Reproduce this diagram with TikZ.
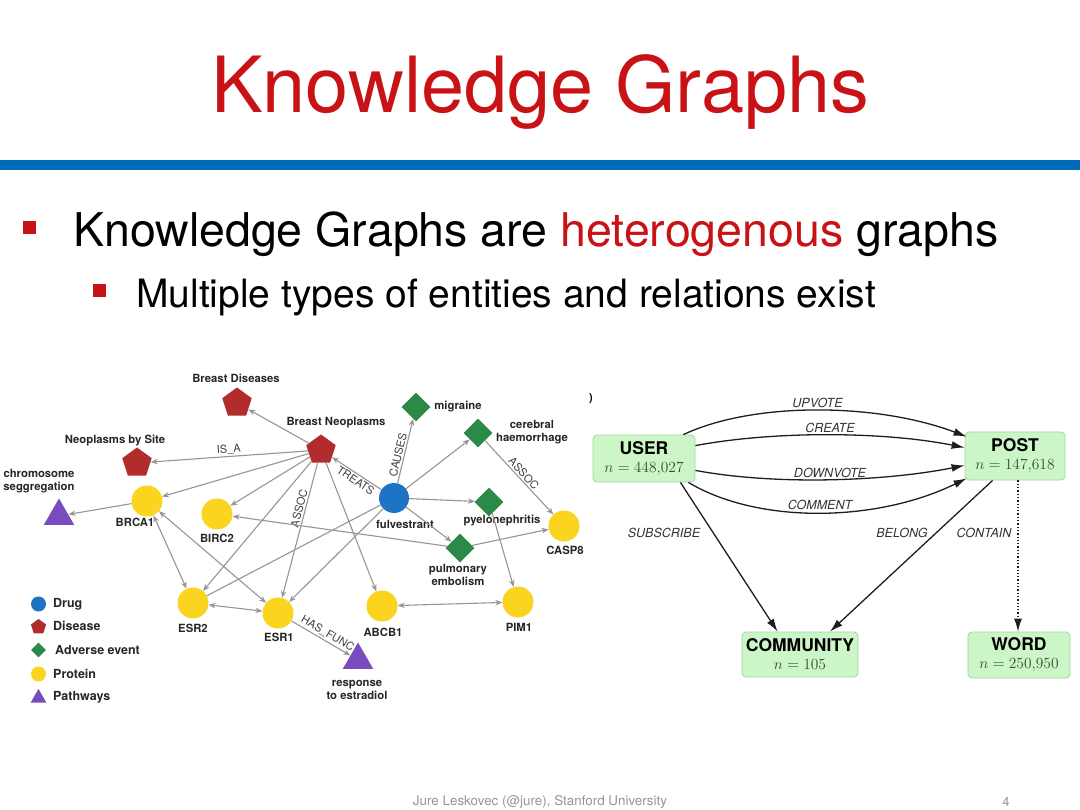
\RequirePackage{fix-cm}
\documentclass[tikz,border=0pt]{standalone}
\usepackage{fontspec}
\setmainfont{TeX Gyre Heros}
\usetikzlibrary{shapes.geometric,arrows.meta}
\definecolor{titlered}{RGB}{200,18,22}
\definecolor{barblue}{RGB}{0,108,183}
\definecolor{disred}{RGB}{178,44,44}
\definecolor{advgreen}{RGB}{44,138,72}
\definecolor{protyellow}{RGB}{250,212,30}
\definecolor{drugblue}{RGB}{30,116,196}
\definecolor{pathpurple}{RGB}{120,76,190}
\definecolor{edgegray}{RGB}{150,150,150}
\definecolor{boxfill}{RGB}{204,245,200}
\definecolor{boxline}{RGB}{160,215,160}
\definecolor{darkline}{RGB}{30,30,30}
\definecolor{ntext}{RGB}{50,80,50}
\definecolor{foot}{RGB}{150,150,150}
\begin{document}
\begin{tikzpicture}[x=1pt,y=-1pt,
  prot/.style={circle,fill=protyellow,minimum size=31pt,inner sep=0pt},
  drug/.style={circle,fill=drugblue,minimum size=30pt,inner sep=0pt},
  dis/.style={regular polygon,regular polygon sides=5,fill=disred,minimum size=31pt,inner sep=0pt},
  adv/.style={diamond,fill=advgreen,minimum size=29pt,inner sep=0pt},
  path/.style={regular polygon,regular polygon sides=3,fill=pathpurple,minimum size=35pt,inner sep=0pt},
  nlbl/.style={font=\fontsize{11.3}{13}\selectfont\bfseries,text=black!85,inner sep=1pt,align=center},
  elbl/.style={font=\fontsize{11}{12}\selectfont,text=black!75,inner sep=1.5pt},
  gedge/.style={draw=edgegray,line width=1.1pt,-{Stealth[length=7pt,width=5.5pt]}},
  gboth/.style={draw=edgegray,line width=1.1pt,{Stealth[length=7pt,width=5.5pt]}-{Stealth[length=7pt,width=5.5pt]}},
  gline/.style={draw=edgegray,line width=1.1pt},
  ebox/.style={draw=boxline,fill=boxfill,rounded corners=4pt,line width=0.8pt,align=center,inner sep=0pt,font=\fontsize{17.5}{18}\selectfont},
  rarrow/.style={draw=darkline,line width=1.3pt,-{Latex[length=13pt,width=8pt]}},
  rlbl/.style={font=\fontsize{12.5}{14}\selectfont\itshape,text=black!80,inner sep=2pt},
  leg/.style={font=\fontsize{12.5}{14}\selectfont\bfseries,text=black!85,anchor=west,inner sep=0pt}
]
\useasboundingbox (0,0) rectangle (1080,810);
\fill[white] (0,0) rectangle (1080,810);

% title and bar
\node[font=\fontsize{77.5}{82}\selectfont,text=titlered] (title) at (540,92) {Knowledge Graphs};
\fill[barblue] (0,160) rectangle (1080,170);

% bullets
\node[fill=titlered,minimum size=13pt,inner sep=0pt] (b1) at (29.5,228) {};
\node[anchor=base west,font=\fontsize{46.5}{50}\selectfont,inner sep=0pt] (t1) at (73,246.7) {Knowledge Graphs are \textcolor{titlered}{heterogenous} graphs};
\node[fill=titlered,minimum size=12.5pt,inner sep=0pt] (b2) at (99.7,290.5) {};
\node[anchor=base west,font=\fontsize{39}{43}\selectfont,inner sep=0pt] (t2) at (136,307.3) {Multiple types of entities and relations exist};

% ---------------- left graph ----------------
\node[dis] (bd) at (237,403) {};
\node[dis] (bn) at (321,450) {};
\node[dis] (nbs) at (137,463) {};
\node[path] (chrom) at (59,516) {};
\node[prot] (brca1) at (147,501) {};
\node[prot] (birc2) at (217,514) {};
\node[drug] (fulv) at (394,498) {};
\node[adv] (mig) at (416,407) {};
\node[adv] (cer) at (478,433) {};
\node[adv] (pyel) at (489,502) {};
\node[adv] (pulm) at (460,548) {};
\node[prot] (casp8) at (564,526) {};
\node[prot] (esr2) at (193,603) {};
\node[prot] (esr1) at (278,613) {};
\node[prot] (abcb1) at (382,606) {};
\node[prot] (pim1) at (518,602) {};
\node[path] (resp) at (358,660) {};

\node[nlbl] (lbd) at (236,378) {Breast Diseases};
\node[nlbl] (lbn) at (336,423) {Breast Neoplasms};
\node[nlbl] (lnbs) at (115,441) {Neoplasms by Site};
\node[nlbl] (lchrom) at (39,481) {chromosome\\seggregation};
\node[nlbl] (lbrca1) at (135,522) {BRCA1};
\node[nlbl] (lbirc2) at (217,538) {BIRC2};
\node[nlbl] (lfulv) at (405,524) {fulvestrant};
\node[nlbl] (lmig) at (458,407) {migraine};
\node[nlbl] (lcer) at (532,432) {cerebral\\haemorrhage};
\node[nlbl] (lpyel) at (502,521) {pyelonephritis};
\node[nlbl] (lpulm) at (458,575) {pulmonary\\embolism};
\node[nlbl] (lcasp8) at (565,550) {CASP8};
\node[nlbl] (lesr2) at (193,628) {ESR2};
\node[nlbl] (lesr1) at (279,637) {ESR1};
\node[nlbl] (labcb1) at (383,632) {ABCB1};
\node[nlbl] (lpim1) at (519,627) {PIM1};
\node[nlbl] (lresp) at (357,690) {response\\to estradiol};

% edges
\draw[gedge] (bn) -- (bd);
\draw[gedge] (bn) -- node[elbl,above,sloped,pos=0.5] (lisa) {IS\_A} (nbs);
\draw[gedge] (bn) -- (brca1);
\draw[gedge] (bn) -- (birc2);
\draw[gedge] (bn) -- (esr2);
\draw[gedge] (bn) -- node[elbl,above,sloped,pos=0.35] (lassoc1) {ASSOC} (esr1);
\draw[gedge] (bn) -- (abcb1);
\draw[gedge] (fulv) -- node[elbl,below,sloped,pos=0.45] (ltreats) {TREATS} (bn);
\draw[gedge] (fulv) -- node[elbl,above,sloped,pos=0.42] (lcauses) {CAUSES} (mig);
\draw[gedge] (fulv) -- (cer);
\draw[gedge] (fulv) -- (pyel);
\draw[gedge] (fulv) -- (pulm);
\draw[gline] (fulv) -- (esr2);
\draw[gedge] (fulv) -- (esr1);
\draw[gboth] (brca1) -- (esr2);
\draw[gboth] (brca1) -- (esr1);
\draw[gboth] (esr2) -- (esr1);
\draw[gedge] (esr1) -- node[elbl,above,sloped,pos=0.55] (lhas) {HAS\_FUNC} (resp);
\draw[gboth] (abcb1) -- (pim1);
\draw[gedge] (brca1) -- (chrom);
\draw[gedge] (cer) -- node[elbl,above,sloped,pos=0.5] (lassoc2) {ASSOC} (casp8);
\draw[gedge] (pyel) -- (pim1);
\draw[gedge] (pulm) -- (casp8);
\draw[gedge] (pulm) -- (birc2);

% legend
\node[circle,fill=drugblue,minimum size=15pt,inner sep=0pt] (kdrug) at (38.5,604) {};
\node[regular polygon,regular polygon sides=5,fill=disred,minimum size=16pt,inner sep=0pt] (kdis) at (38.5,627) {};
\node[diamond,fill=advgreen,minimum size=15pt,inner sep=0pt] (kadv) at (38.5,650) {};
\node[circle,fill=protyellow,minimum size=15pt,inner sep=0pt] (kprot) at (38.5,674) {};
\node[regular polygon,regular polygon sides=3,fill=pathpurple,minimum size=18pt,inner sep=0pt] (kpath) at (38.5,698) {};
\node[leg] (tdrug) at (53,604) {Drug};
\node[leg] (tdis) at (53,626) {Disease};
\node[leg] (tadv) at (55,650) {Adverse event};
\node[leg] (tprot) at (53,674) {Protein};
\node[leg] (tpath) at (53,697) {Pathways};

% ---------------- right graph ----------------
\node[font=\fontsize{11}{12}\selectfont\bfseries,inner sep=0pt] (paren) at (591,399) {)};
\node[ebox,minimum width=102pt,minimum height=47pt] (user) at (644,458.5) {\textbf{USER}\\\textcolor{ntext}{\fontsize{15.5}{17}\selectfont$n=448{,}027$}};
\node[ebox,minimum width=100pt,minimum height=48pt] (post) at (1015,456) {\textbf{POST}\\\textcolor{ntext}{\fontsize{15.5}{17}\selectfont$n=147{,}618$}};
\node[ebox,minimum width=116pt,minimum height=45pt] (comm) at (800,654.5) {\textbf{COMMUNITY}\\\textcolor{ntext}{\fontsize{15.5}{17}\selectfont$n=105$}};
\node[ebox,minimum width=102pt,minimum height=46pt] (word) at (1019,655) {\textbf{WORD}\\\textcolor{ntext}{\fontsize{15.5}{17}\selectfont$n=250{,}950$}};

\draw[rarrow] ([xshift=-12pt]user.north east) .. controls +(70,-33) and +(-90,-34) .. node[rlbl,above,pos=0.5] (lup) {UPVOTE} ([xshift=2pt,yshift=-5pt]post.north west);
\draw[rarrow] ([yshift=-11pt]user.north east) .. controls +(80,-15) and +(-80,-16) .. node[rlbl,above,pos=0.5] (lcr) {CREATE} ([yshift=-16pt]post.north west);
\draw[rarrow] ([yshift=12pt]user.south east) .. controls +(80,15) and +(-80,16) .. node[rlbl,above,pos=0.5,inner sep=1pt] (ldown) {DOWNVOTE} ([yshift=15pt]post.south west);
\draw[rarrow] ([xshift=-7pt]user.south east) .. controls +(70,42) and +(-90,44) .. node[rlbl,above,pos=0.5] (lcom) {COMMENT} ([xshift=2pt,yshift=2pt]post.south west);
\draw[rarrow] ([xshift=-15pt]user.south east) -- ([xshift=36pt]comm.north west);
\draw[rarrow] ([xshift=28pt]post.south west) -- ([xshift=30pt]comm.north);
\draw[rarrow,dotted,line width=1.2pt] ([xshift=3pt]post.south) -- ([xshift=-1pt]word.north);
\node[rlbl] (lsub) at (664,533) {SUBSCRIBE};
\node[rlbl] (lbel) at (902,533) {BELONG};
\node[rlbl] (lcon) at (984,533) {CONTAIN};

% footer
\node[font=\fontsize{13.4}{15}\selectfont,text=foot] (foot1) at (540,802) {Jure Leskovec (@jure), Stanford University};
\node[font=\fontsize{13}{15}\selectfont,text=foot] (foot2) at (1006,802) {4};
\end{tikzpicture}
\end{document}
